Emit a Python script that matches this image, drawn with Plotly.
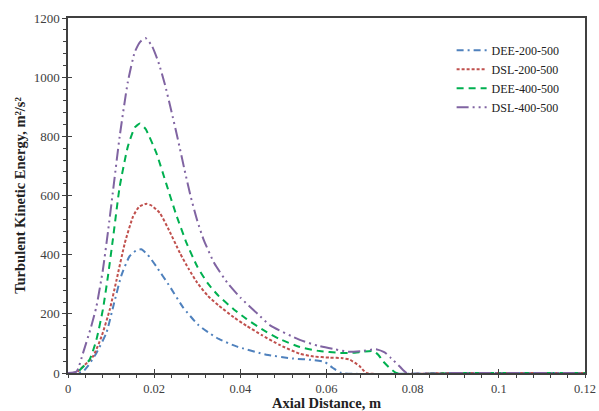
import plotly.graph_objects as go

# ---- data ----
dee200_x = [0, 0.002, 0.0035, 0.0046, 0.0066, 0.0089, 0.0105, 0.0124, 0.0143, 0.0158, 0.017, 0.0185, 0.0205,
            0.0236, 0.0267, 0.0302, 0.0325, 0.035, 0.0391, 0.046, 0.0522, 0.0569, 0.0596, 0.0615, 0.0635, 0.09, 0.12]
dee200_y = [0, 0, 5, 23, 68, 135, 225, 330, 395, 414, 418, 400, 360,
            293, 222, 163, 138, 115, 90, 62, 49, 44, 37, 17, 0, 0, 0]

dsl200_x = [0, 0.002, 0.0027, 0.0058, 0.0078, 0.0097, 0.0112, 0.0132, 0.0151, 0.0165, 0.0182, 0.0195, 0.0213,
            0.0232, 0.026, 0.028, 0.030, 0.0325, 0.035, 0.0385, 0.0414, 0.045, 0.0491, 0.0538, 0.057, 0.0607,
            0.0638, 0.0654, 0.0677, 0.0693, 0.09, 0.12]
dsl200_y = [0, 2, 11, 56, 124, 215, 310, 440, 529, 562, 572, 565, 541,
            490, 405, 352, 305, 260, 228, 188, 160, 128, 95, 65, 56, 52,
            50, 45, 23, 0, 0, 0]

dee400_x = [0, 0.002, 0.005, 0.0066, 0.0081, 0.0093, 0.0104, 0.012, 0.0139, 0.0155, 0.0167, 0.018, 0.0205,
            0.0228, 0.025, 0.0275, 0.030, 0.0325, 0.035, 0.0385, 0.0414, 0.045, 0.0491, 0.0538, 0.0584,
            0.063, 0.066, 0.0685, 0.0708, 0.072, 0.0731, 0.0762, 0.09, 0.12]
dee400_y = [0, 2, 45, 113, 215, 330, 450, 630, 766, 830, 843, 825, 744,
            640, 540, 440, 360, 302, 260, 215, 183, 148, 115, 88, 74,
            68, 68, 72, 74, 62, 40, 0, 0, 0]

dsl400_x = [0, 0.002, 0.0035, 0.0054, 0.0066, 0.0081, 0.0093, 0.0104, 0.012, 0.0139, 0.0155, 0.0168, 0.018,
            0.0195, 0.021, 0.0225, 0.024, 0.0255, 0.027, 0.0285, 0.030, 0.0315, 0.034, 0.037, 0.040, 0.044,
            0.047, 0.0538, 0.058, 0.062, 0.065, 0.068, 0.0715, 0.0735, 0.075, 0.077, 0.0786, 0.09, 0.12]
dsl400_y = [0, 5, 68, 158, 225, 349, 480, 610, 800, 985, 1085, 1120, 1132,
            1105, 1050, 975, 885, 790, 690, 595, 515, 450, 370, 305, 255, 200,
            160, 112, 92, 80, 72, 74, 80, 70, 50, 22, 0, 0, 0]

series = [
    ("DEE-200-500", dee200_x, dee200_y, "#4f81bd", "7px,4px,2px,4px"),
    ("DSL-200-500", dsl200_x, dsl200_y, "#c0504d", "3px,2px"),
    ("DEE-400-500", dee400_x, dee400_y, "#00b050", "7px,5px"),
    ("DSL-400-500", dsl400_x, dsl400_y, "#8064a2", "12px,4px,2px,4px,2px,4px"),
]

x_ticks = [0, 0.02, 0.04, 0.06, 0.08, 0.1, 0.12]
y_ticks = [0, 200, 400, 600, 800, 1000, 1200]

FONT = "Liberation Serif, Times New Roman, serif"
AX = "#404040"

fig = go.Figure()
for name, xs, ys, col, dash in series:
    fig.add_trace(go.Scatter(
        x=xs, y=ys, mode="lines", name=name,
        line=dict(color=col, width=2, dash=dash, shape="spline", smoothing=0.5),
    ))

# invisible trace to carry the overlay axes (inside halves of the major ticks)
fig.add_trace(go.Scatter(x=[0], y=[0], xaxis="x2", yaxis="y2", mode="markers",
                         marker=dict(opacity=0), showlegend=False, hoverinfo="skip"))

fig.update_layout(
    width=599, height=411,
    margin=dict(l=68, r=14, t=18, b=38),
    paper_bgcolor="white", plot_bgcolor="white",
    font=dict(family=FONT, size=12, color=AX),
    showlegend=True,
    legend=dict(x=0.742, y=0.95, xanchor="left", yanchor="top",
                bgcolor="rgba(0,0,0,0)", font=dict(family=FONT, size=12, color="#222222"),
                itemwidth=30, tracegroupgap=0),
    xaxis=dict(range=[0, 0.12], tickvals=x_ticks, automargin=False,
               showgrid=False, zeroline=False, showline=True, linecolor=AX, linewidth=1.5,
               mirror=True, ticks="outside", ticklen=3, tickwidth=1.2, tickcolor=AX,
               minor=dict(dtick=0.004, ticks="outside", ticklen=3, tickwidth=1, tickcolor=AX),
               tickfont=dict(family=FONT, size=12.5, color=AX),
               title=dict(text="<b>Axial Distance, m</b>", font=dict(family=FONT, size=14.5, color="#222222"),
                          standoff=3)),
    yaxis=dict(range=[0, 1200], tickvals=y_ticks, automargin=False,
               showgrid=False, zeroline=False, showline=True, linecolor=AX, linewidth=1.5,
               mirror=True, ticks="outside", ticklen=4, tickwidth=1.2, tickcolor=AX,
               minor=dict(dtick=40, ticks="outside", ticklen=3, tickwidth=1, tickcolor=AX),
               tickfont=dict(family=FONT, size=13, color=AX),
               title=dict(text="<b>Turbulent Kinetic Energy, m²/s²</b>",
                          font=dict(family=FONT, size=14.5, color="#222222"), standoff=5)),
    xaxis2=dict(range=[0, 0.12], overlaying="x", anchor="y2", side="bottom", tickvals=x_ticks,
                showticklabels=False, showgrid=False, zeroline=False, showline=False,
                ticks="inside", ticklen=4, tickwidth=1.2, tickcolor=AX),
    yaxis2=dict(range=[0, 1200], overlaying="y", anchor="x2", side="left", tickvals=y_ticks,
                showticklabels=False, showgrid=False, zeroline=False, showline=False,
                ticks="inside", ticklen=4, tickwidth=1.2, tickcolor=AX),
)

fig.write_html("out.html")
